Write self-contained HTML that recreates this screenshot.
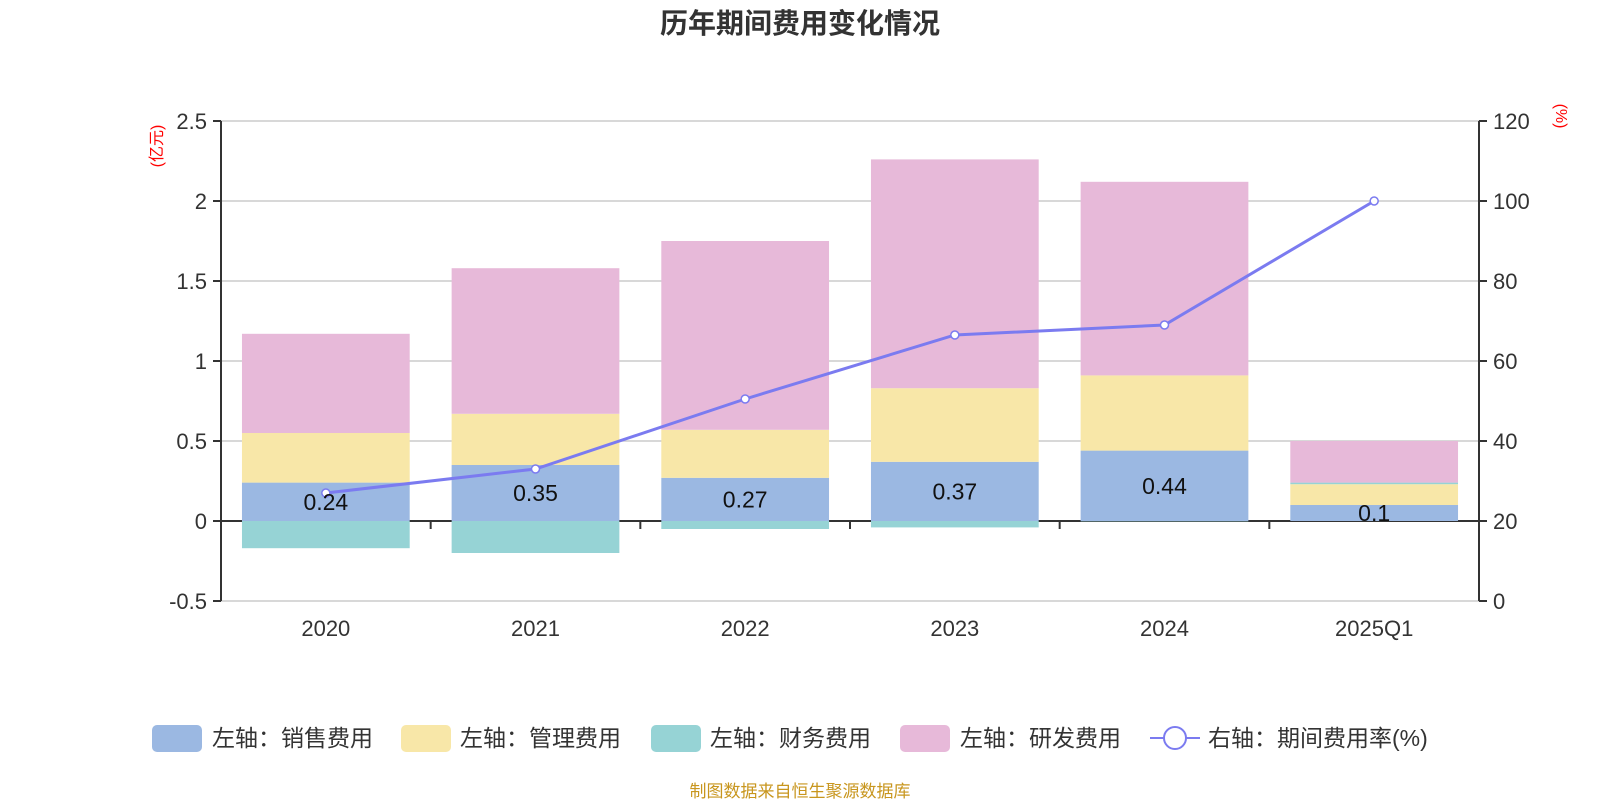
<!DOCTYPE html>
<html><head><meta charset="utf-8"><style>
body{margin:0;background:#fff;}
svg text{font-family:"Liberation Sans","Noto Sans CJK SC",sans-serif;}
</style></head><body>
<svg width="1600" height="800" xmlns="http://www.w3.org/2000/svg">
<text x="800" y="33" text-anchor="middle" font-size="28" font-weight="bold" fill="#333">历年期间费用变化情况</text>
<g id="grid"></g><g id="bars"></g><g id="axes"></g><g id="line"></g><g id="labels"></g>
<text transform="translate(162,146) rotate(-90)" text-anchor="middle" font-size="16" fill="red">(亿元)</text>
<text transform="translate(1556,116) rotate(90)" text-anchor="middle" font-size="16" fill="red">(%)</text>
<g font-size="23" fill="#333">
<rect x="152" y="725" width="50" height="27" rx="5" fill="#9bb8e2"/>
<text x="212" y="746">左轴：销售费用</text>
<rect x="401" y="725" width="50" height="27" rx="5" fill="#f8e7a8"/>
<text x="460" y="746">左轴：管理费用</text>
<rect x="651" y="725" width="50" height="27" rx="5" fill="#96d3d5"/>
<text x="710" y="746">左轴：财务费用</text>
<rect x="900" y="725" width="50" height="27" rx="5" fill="#e7b9d9"/>
<text x="960" y="746">左轴：研发费用</text>
<g><line x1="1150" y1="738" x2="1200" y2="738" stroke="#7b7bf0" stroke-width="2"/><circle cx="1175" cy="738" r="11" fill="#fff" stroke="#7b7bf0" stroke-width="2"/></g>
<text x="1208" y="746">右轴：期间费用率(%)</text>
</g>
<text x="800" y="797" text-anchor="middle" font-size="17" fill="#c8961e">制图数据来自恒生聚源数据库</text>
</svg>
<script>
const categories=["2020","2021","2022","2023","2024","2025Q1"];
const sales=[0.24,0.35,0.27,0.37,0.44,0.10];
const admin=[0.31,0.32,0.30,0.46,0.47,0.13];
const finance=[-0.17,-0.20,-0.05,-0.04,-0.002,0.01];
const rd=[0.62,0.91,1.18,1.43,1.21,0.26];
const rate=[27,33,50.5,66.5,69,100];
const leftTicks=[-0.5,0,0.5,1,1.5,2,2.5];
const rightTicks=[0,20,40,60,80,100,120];
const NS="http://www.w3.org/2000/svg";
const X0=221,X1=1479,cw=(X1-X0)/categories.length,bw=cw*0.8;
const yL=v=>521-v*160, yR=v=>601-v*4, xc=i=>X0+cw*(i+0.5);
function mk(t,a,p){const e=document.createElementNS(NS,t);for(const k in a)e.setAttribute(k,a[k]);document.getElementById(p).appendChild(e);return e;}
leftTicks.forEach(v=>{const l=mk('line',{x1:X0,x2:X1,y1:yL(v),y2:yL(v),stroke:v===0?'#333':'#ccc','stroke-width':v===0?2:1.5},'grid');

const t=mk('text',{x:X0-14,y:yL(v)+8,'text-anchor':'end','font-size':22,fill:'#333'},'axes');t.textContent=v;

mk('line',{x1:X0-8,x2:X0,y1:yL(v),y2:yL(v),stroke:'#333','stroke-width':2},'axes');});
rightTicks.forEach(v=>{const t=mk('text',{x:X1+14,y:yR(v)+8,'font-size':22,fill:'#333'},'axes');t.textContent=v;

mk('line',{x1:X1,x2:X1+8,y1:yR(v),y2:yR(v),stroke:'#333','stroke-width':2},'axes');});
mk('line',{x1:X0,x2:X0,y1:121,y2:601,stroke:'#333','stroke-width':2},'axes');
mk('line',{x1:X1,x2:X1,y1:121,y2:601,stroke:'#333','stroke-width':2},'axes');
const series=[[sales,'#9bb8e2','bar-sales'],[admin,'#f8e7a8','bar-admin'],[finance,'#96d3d5','bar-finance'],[rd,'#e7b9d9','bar-rd']];
categories.forEach((c,i)=>{let pos=0,neg=0;
series.forEach(([arr,col,nm])=>{const v=arr[i];let a,b;if(v>=0){a=pos;b=pos+v;pos=b;}else{a=neg;b=neg+v;neg=b;}
const r=mk('rect',{x:xc(i)-bw/2,width:bw,y:Math.min(yL(a),yL(b)),height:Math.abs(yL(a)-yL(b)),fill:col},'bars');
});
const t=mk('text',{x:xc(i),y:yL(sales[i]/2)+8,'text-anchor':'middle','font-size':23,fill:'#111'},'labels');t.textContent=sales[i];

const xl=mk('text',{x:xc(i),y:636,'text-anchor':'middle','font-size':22,fill:'#333'},'axes');xl.textContent=c;

if(i>0)mk('line',{x1:X0+cw*i,x2:X0+cw*i,y1:521,y2:529,stroke:'#333','stroke-width':2},'axes');});
const pl=mk('polyline',{points:rate.map((v,i)=>xc(i)+','+yR(v)).join(' '),fill:'none',stroke:'#7b7bf0','stroke-width':3},'line');

rate.forEach((v,i)=>{const c=mk('circle',{cx:xc(i),cy:yR(v),r:4,fill:'#fff',stroke:'#7b7bf0','stroke-width':1.5},'line');
});
</script>
</body></html>
